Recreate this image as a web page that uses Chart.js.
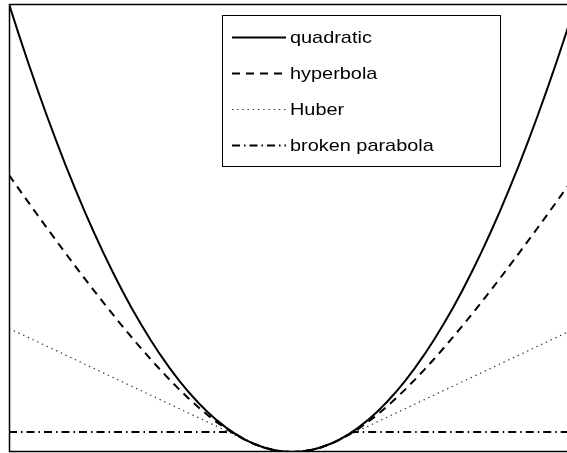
<!DOCTYPE html>
<html>
<head>
<meta charset="utf-8">
<script src="https://cdn.jsdelivr.net/npm/chart.js@4/dist/chart.umd.min.js"></script>
<style>
  html, body { margin: 0; padding: 0; background: #fff; }
  #wrap { width: 567px; height: 453px; }
</style>
</head>
<body>
<div id="wrap"><canvas id="c" width="567" height="453"></canvas></div>
<script>
// Residual values u shared by the smooth penalty curves
const uGrid = [-1.5,-1.45,-1.4,-1.35,-1.3,-1.25,-1.2,-1.15,-1.1,-1.05,-1.0,-0.95,-0.9,-0.85,-0.8,-0.75,-0.7,-0.65,-0.6,-0.55,-0.5,-0.45,-0.4,-0.35,-0.3,-0.25,-0.2,-0.15,-0.1,-0.05,0,
               0.05,0.1,0.15,0.2,0.25,0.3,0.35,0.4,0.45,0.5,0.55,0.6,0.65,0.7,0.75,0.8,0.85,0.9,0.95,1.0,1.05,1.1,1.15,1.2,1.25,1.3,1.35,1.4,1.45,1.5];

const quadratic = [2.25,2.1025,1.96,1.8225,1.69,1.5625,1.44,1.3225,1.21,1.1025,1,0.9025,0.81,0.7225,0.64,0.5625,0.49,0.4225,0.36,0.3025,0.25,0.2025,0.16,0.1225,0.09,0.0625,0.04,0.0225,0.01,0.0025,0,
                   0.0025,0.01,0.0225,0.04,0.0625,0.09,0.1225,0.16,0.2025,0.25,0.3025,0.36,0.4225,0.49,0.5625,0.64,0.7225,0.81,0.9025,1,1.1025,1.21,1.3225,1.44,1.5625,1.69,1.8225,1.96,2.1025,2.25];

const hyperbola = [1.3906,1.3237,1.2574,1.1915,1.1263,1.0616,0.9977,0.9344,0.8720,0.8105,0.75,0.6906,0.6323,0.5754,0.5199,0.4660,0.4139,0.3637,0.3157,0.2701,0.2271,0.1870,0.15,0.1165,0.0867,0.0609,0.0393,0.0223,0.0100,0.0025,0,
                   0.0025,0.0100,0.0223,0.0393,0.0609,0.0867,0.1165,0.15,0.1870,0.2271,0.2701,0.3157,0.3637,0.4139,0.4660,0.5199,0.5754,0.6323,0.6906,0.75,0.8105,0.8720,0.9344,0.9977,1.0616,1.1263,1.1915,1.2574,1.3237,1.3906];

const huber = [0.6208,0.5985,0.5761,0.5537,0.5314,0.5090,0.4867,0.4643,0.4419,0.4196,0.3972,0.3749,0.3525,0.3301,0.3078,0.2854,0.2631,0.2407,0.2183,0.1960,0.1736,0.1513,0.1289,0.1065,0.0842,0.0618,0.04,0.0225,0.01,0.0025,0,
               0.0025,0.01,0.0225,0.04,0.0618,0.0842,0.1065,0.1289,0.1513,0.1736,0.1960,0.2183,0.2407,0.2631,0.2854,0.3078,0.3301,0.3525,0.3749,0.3972,0.4196,0.4419,0.4643,0.4867,0.5090,0.5314,0.5537,0.5761,0.5985,0.6208];

// Broken parabola: flat outside the corner points, parabolic between them
const brokenU      = [-1.5,-0.3162,-0.3,-0.25,-0.2,-0.15,-0.1,-0.05,0,0.05,0.1,0.15,0.2,0.25,0.3,0.3162,1.5];
const brokenValues = [0.1,0.1,0.09,0.0625,0.04,0.0225,0.01,0.0025,0,0.0025,0.01,0.0225,0.04,0.0625,0.09,0.1,0.1];

const seriesNames = ['quadratic', 'hyperbola', 'Huber', 'broken parabola'];

const toPoints = (xs, ys) => xs.map((x, i) => ({ x: x, y: ys[i] }));

// Frame: left, top and bottom edges of the plot box
const framePlugin = {
  id: 'frame',
  afterDatasetsDraw(chart) {
    const { ctx, chartArea: a } = chart;
    ctx.save();
    ctx.strokeStyle = '#000';
    ctx.lineWidth = 1.5;
    ctx.beginPath();
    ctx.moveTo(a.right + 2, a.top + 0.5);
    ctx.lineTo(a.left + 0.5, a.top + 0.5);
    ctx.lineTo(a.left + 0.5, a.bottom - 0.5);
    ctx.lineTo(a.right + 2, a.bottom - 0.5);
    ctx.stroke();
    ctx.restore();
  }
};

// Boxed legend with line samples drawn in each dataset's own style
const boxLegend = {
  id: 'boxLegend',
  afterDraw(chart) {
    const ctx = chart.ctx;
    const bx = 222.5, by = 15.5, bw = 278, bh = 151;
    ctx.save();
    ctx.fillStyle = '#fff';
    ctx.fillRect(bx, by, bw, bh);
    ctx.strokeStyle = '#000';
    ctx.lineWidth = 1;
    ctx.setLineDash([]);
    ctx.strokeRect(bx, by, bw, bh);
    const rowY = [37.5, 73.5, 109.5, 145.5];
    chart.data.datasets.forEach((ds, i) => {
      const y = rowY[i];
      ctx.save();
      ctx.strokeStyle = ds.borderColor;
      ctx.lineWidth = ds.borderWidth;
      ctx.setLineDash(ds.borderDash || []);
      ctx.beginPath();
      ctx.moveTo(232, y);
      ctx.lineTo(286, y);
      ctx.stroke();
      ctx.restore();
      ctx.save();
      ctx.fillStyle = '#000';
      ctx.font = '17px "Liberation Sans", Arial, sans-serif';
      ctx.textBaseline = 'middle';
      ctx.translate(290, y + 1);
      ctx.scale(1.17, 1);
      ctx.fillText(ds.label, 0, 0);
      ctx.restore();
    });
    ctx.restore();
  }
};

new Chart(document.getElementById('c'), {
  type: 'line',
  data: {
    datasets: [
      { label: seriesNames[0], data: toPoints(uGrid, quadratic), borderColor: '#000', borderWidth: 2, borderDash: [] },
      { label: seriesNames[1], data: toPoints(uGrid, hyperbola), borderColor: '#000', borderWidth: 2, borderDash: [8, 6] },
      { label: seriesNames[2], data: toPoints(uGrid, huber), borderColor: '#333', borderWidth: 1.2, borderDash: [1.4, 3.8] },
      { label: seriesNames[3], data: toPoints(brokenU, brokenValues), borderColor: '#000', borderWidth: 2, borderDash: [8, 4, 1.5, 4] }
    ]
  },
  options: {
    responsive: false,
    animation: false,
    events: [],
    layout: { padding: { left: 9, top: 4, right: 0, bottom: 1 } },
    elements: {
      point: { radius: 0 },
      line: { tension: 0, fill: false }
    },
    scales: {
      x: { type: 'linear', min: -1.5, max: 1.455, display: false },
      y: { type: 'linear', min: 0, max: 2.25, display: false }
    },
    plugins: {
      legend: { display: false },
      tooltip: { enabled: false },
      title: { display: false }
    }
  },
  plugins: [framePlugin, boxLegend]
});
</script>
</body>
</html>
